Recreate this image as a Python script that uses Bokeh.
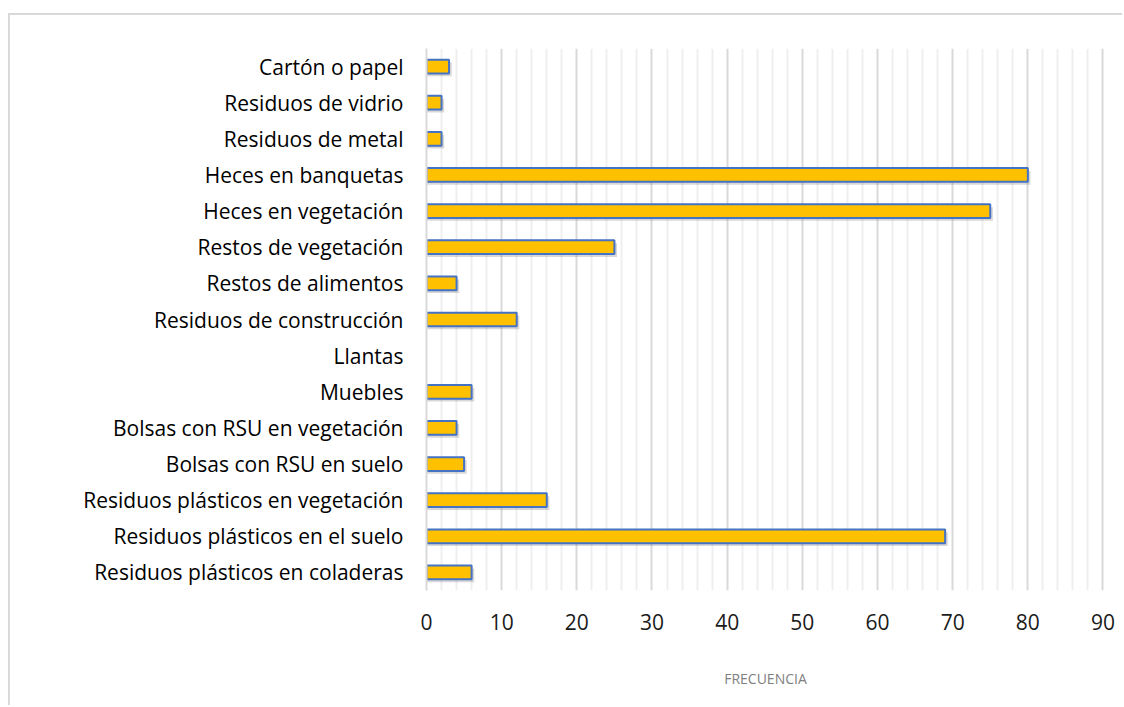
from bokeh.plotting import figure
from bokeh.models import FactorRange, ColumnDataSource, FixedTicker
from bokeh.transform import dodge
from bokeh.embed import file_html
from bokeh.resources import INLINE

categories = [
    "Cartón o papel",
    "Residuos de vidrio",
    "Residuos de metal",
    "Heces en banquetas",
    "Heces en vegetación",
    "Restos de vegetación",
    "Restos de alimentos",
    "Residuos de construcción",
    "Llantas",
    "Muebles",
    "Bolsas con RSU en vegetación",
    "Bolsas con RSU en suelo",
    "Residuos plásticos en vegetación",
    "Residuos plásticos en el suelo",
    "Residuos plásticos en coladeras",
]
frecuencia = [3, 2, 2, 80, 75, 25, 4, 12, 0, 6, 4, 5, 16, 69, 6]
x_ticks = [0, 10, 20, 30, 40, 50, 60, 70, 80, 90]
x_title = "FRECUENCIA"

factors = list(reversed(categories))
src = ColumnDataSource(dict(
    cat=categories, val=frecuencia,
    shadow=[v + 0.35 if v > 0 else 0 for v in frecuencia],
    outline=["#4472C4" if v > 0 else None for v in frecuencia],
))

p = figure(width=1114, height=692, y_range=FactorRange(factors=factors),
           x_range=(0, 90.2), output_backend="svg", toolbar_location=None,
           min_border_left=416, min_border_right=20, min_border_top=33,
           min_border_bottom=117)
p.styles = {"margin-left": "8px", "margin-top": "13px",
            "border-left": "2px solid #d9d9d9", "border-top": "2px solid #d9d9d9"}

p.outline_line_color = None
p.background_fill_color = "white"
p.border_fill_color = "white"

# soft shadow
p.hbar(y=dodge("cat", -0.08, range=p.y_range), right="shadow", left=0, height=0.38,
       source=src, fill_color="#7f7f7f", fill_alpha=0.3, line_color=None)
p.hbar(y="cat", right="val", left=0, height=0.38, source=src,
       fill_color="#FFC000", line_color="outline", line_width=2)

p.xaxis.ticker = FixedTicker(ticks=x_ticks,
                             minor_ticks=[i for i in range(0, 91, 2) if i % 10])
p.xgrid.ticker = p.xaxis.ticker
p.xgrid.grid_line_color = "#d9d9d9"
p.xgrid.grid_line_width = 2
p.xgrid.minor_grid_line_color = "#efefef"
p.xgrid.minor_grid_line_width = 2
p.ygrid.grid_line_color = None

p.xaxis.axis_line_color = None
p.xaxis.major_tick_line_color = None
p.xaxis.minor_tick_line_color = None
p.xaxis.major_label_text_font = "Open Sans"
p.xaxis.major_label_text_font_size = "21px"
p.xaxis.major_label_text_color = "#1a1a1a"
p.xaxis.major_label_standoff = 17
p.xaxis.axis_label = x_title
p.xaxis.axis_label_text_font = "Open Sans"
p.xaxis.axis_label_text_font_style = "normal"
p.xaxis.axis_label_text_font_size = "14px"
p.xaxis.axis_label_text_color = "#808080"
p.xaxis.axis_label_standoff = 36

p.yaxis.axis_line_color = "#d9d9d9"
p.yaxis.axis_line_width = 2
p.yaxis.major_tick_line_color = None
p.yaxis.minor_tick_line_color = None
p.yaxis.major_label_text_font = "Open Sans"
p.yaxis.major_label_text_font_size = "21px"
p.yaxis.major_label_text_color = "#000000"
p.yaxis.major_label_standoff = 17

open("out.html", "w").write(file_html(p, INLINE))
